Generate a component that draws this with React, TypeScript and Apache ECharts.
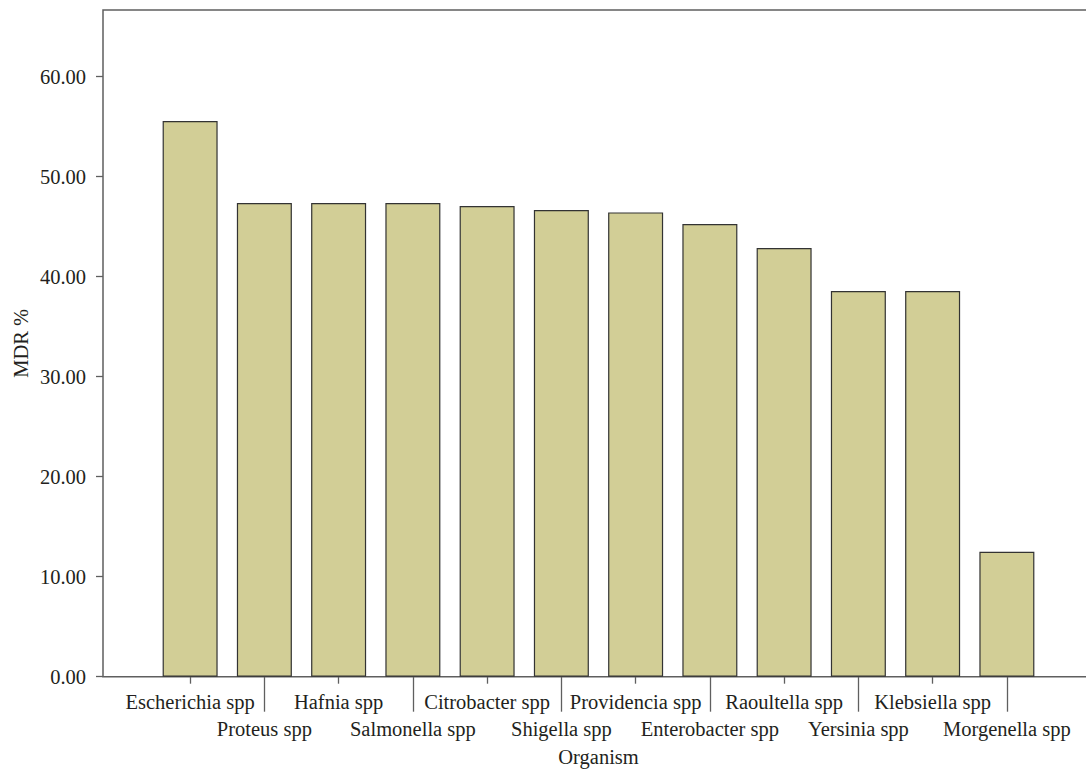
import React, { useEffect, useRef } from "react";
import * as echarts from "echarts";

const categories: string[] = [
  "Escherichia spp",
  "Proteus spp",
  "Hafnia spp",
  "Salmonella spp",
  "Citrobacter spp",
  "Shigella spp",
  "Providencia spp",
  "Enterobacter spp",
  "Raoultella spp",
  "Yersinia spp",
  "Klebsiella spp",
  "Morgenella spp",
];

const mdrValues: number[] = [55.56, 47.37, 47.37, 47.37, 47.06, 46.67, 46.43, 45.27, 42.86, 38.57, 38.57, 12.5];

const yMax = 66.67;
const yTickMax = 60;
const yTickInterval = 10;

const FONT = "'Liberation Serif', 'DejaVu Serif', serif";
const TEXT = "#231f20";
const LINE = "#5f5f5f";

export default function App() {
  const ref = useRef<HTMLDivElement>(null);

  useEffect(() => {
    if (!ref.current) return;
    const chart = echarts.init(ref.current, undefined, { renderer: "svg" });
    const labelStyle = { fontFamily: FONT, fontSize: 20.5, color: TEXT };
    const option: any = {
      animation: false,
      backgroundColor: "#ffffff",
      grid: [
        {
          left: 103,
          top: 10,
          height: 666.7,
          width: 1100,
          show: true,
          borderColor: LINE,
          borderWidth: 1.5,
          backgroundColor: "transparent",
          outerBoundsMode: "none",
        },
        { left: 153, top: 10, height: 666.7, width: 891, outerBoundsMode: "none" },
        { left: 103, top: 76.7, height: 600, width: 100, outerBoundsMode: "none" },
      ],
      xAxis: [
        { gridIndex: 0, type: "value", min: 0, max: 1, show: false },
        {
          gridIndex: 1,
          type: "category",
          position: "bottom",
          offset: 0,
          data: categories,
          boundaryGap: true,
          axisLine: { show: false },
          axisTick: {
            show: true,
            alignWithLabel: true,
            length: 7,
            interval: (i: number) => i % 2 === 0,
            lineStyle: { color: LINE, width: 1.3 },
          },
          axisLabel: {
            ...labelStyle,
            interval: (i: number) => i % 2 === 0,
            margin: 15,
            hideOverlap: false,
          },
          name: "Organism",
          nameLocation: "middle",
          nameGap: 70,
          nameMoveOverlap: false,
          nameTextStyle: labelStyle,
        },
        {
          gridIndex: 1,
          type: "category",
          position: "bottom",
          offset: 0,
          data: categories,
          boundaryGap: true,
          axisLine: { show: false },
          axisTick: {
            show: true,
            alignWithLabel: true,
            length: 35,
            interval: (i: number) => i % 2 === 1,
            lineStyle: { color: LINE, width: 1.3 },
          },
          axisLabel: {
            ...labelStyle,
            interval: (i: number) => i % 2 === 1,
            margin: 42,
            hideOverlap: false,
          },
        },
        { gridIndex: 2, type: "value", min: 0, max: 1, show: false },
      ],
      yAxis: [
        {
          gridIndex: 0,
          type: "value",
          min: 0,
          max: yMax,
          axisLine: { show: false },
          axisTick: { show: false },
          axisLabel: { show: false },
          splitLine: { show: false },
          name: "MDR %",
          nameLocation: "middle",
          nameRotate: 90,
          nameGap: 72,
          nameMoveOverlap: false,
          nameTextStyle: labelStyle,
        },
        { gridIndex: 1, type: "value", min: 0, max: yMax, show: false },
        {
          gridIndex: 2,
          type: "value",
          min: 0,
          max: yTickMax,
          interval: yTickInterval,
          axisLine: { show: false },
          axisTick: { show: true, length: 7, lineStyle: { color: LINE, width: 1.3 } },
          axisLabel: {
            ...labelStyle,
            margin: 17,
            formatter: (v: number) => v.toFixed(2),
          },
          splitLine: { show: false },
        },
      ],
      series: [
        {
          type: "bar",
          xAxisIndex: 1,
          yAxisIndex: 1,
          data: mdrValues,
          barWidth: 55,
          itemStyle: { color: "#d2ce96", borderColor: "#333333", borderWidth: 1.2 },
        },
      ],
    };
    chart.setOption(option);
    return () => chart.dispose();
  }, []);

  return (
    <div
      ref={ref}
      style={{ position: "absolute", left: 0, top: 0, width: 1086, height: 770, background: "#fff" }}
    />
  );
}
